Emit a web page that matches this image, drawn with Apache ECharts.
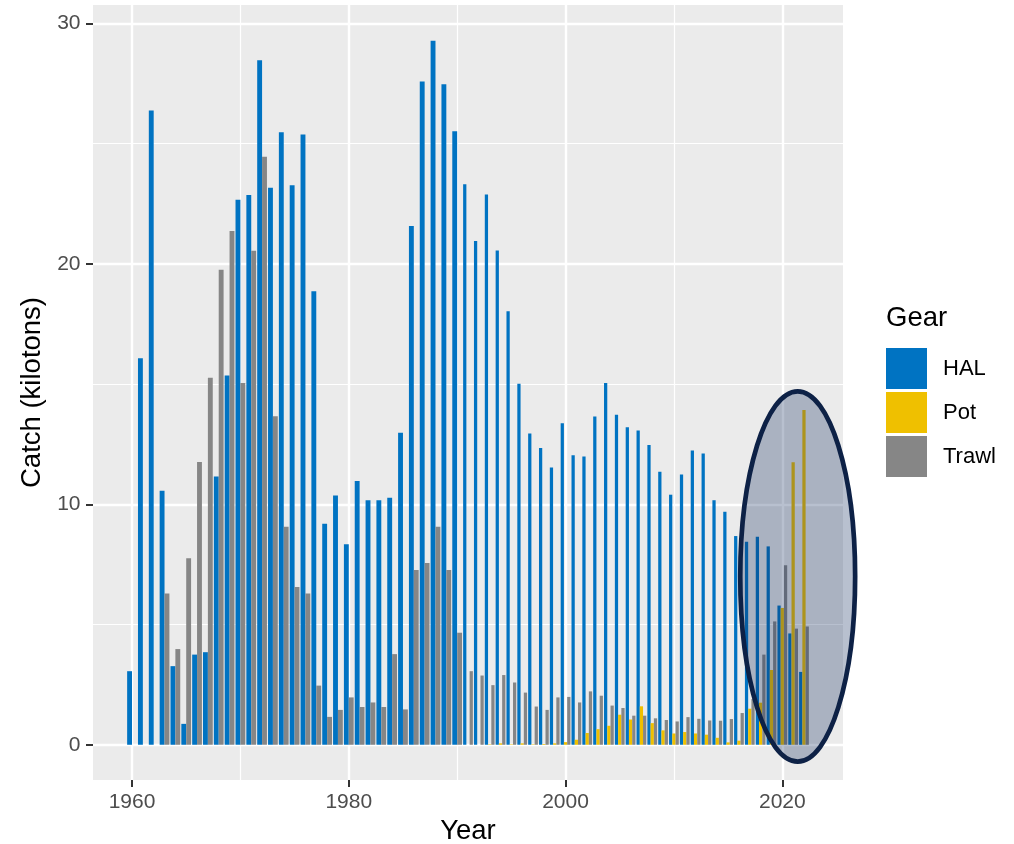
<!DOCTYPE html>
<html><head><meta charset="utf-8">
<script src="https://cdn.jsdelivr.net/npm/echarts@6/dist/echarts.min.js"></script>
<style>html,body{margin:0;padding:0;background:#fff}#c{width:1014px;height:844px}</style>
</head><body><div id="c"></div>
<script>
// ---- data ----
const years = [1960,1961,1962,1963,1964,1965,1966,1967,1968,1969,
  1970,1971,1972,1973,1974,1975,1976,1977,1978,1979,
  1980,1981,1982,1983,1984,1985,1986,1987,1988,1989,
  1990,1991,1992,1993,1994,1995,1996,1997,1998,1999,
  2000,2001,2002,2003,2004,2005,2006,2007,2008,2009,
  2010,2011,2012,2013,2014,2015,2016,2017,2018,2019,
  2020,2021,2022];
const hal = [3.06,16.07,26.38,10.56,3.27,0.87,3.75,3.85,11.16,15.36,
  22.67,22.86,28.47,23.17,25.47,23.27,25.38,18.86,9.19,10.37,
  8.34,10.97,10.17,10.17,10.27,12.98,21.57,27.58,29.28,27.47,
  25.51,23.31,20.95,22.88,20.56,18.03,15.01,12.94,12.34,11.53,
  13.37,12.04,11.99,13.65,15.04,13.72,13.21,13.07,12.47,11.35,
  10.40,11.24,12.24,12.11,10.17,9.69,8.68,8.44,8.65,8.25,
  5.79,4.63,3.03];
const pot = [null,null,null,null,null,null,null,null,null,null,
  null,null,null,null,null,null,null,null,null,null,
  null,null,null,null,null,null,null,null,null,null,
  null,0,0,0.02,0.06,0.02,0.06,0.02,0.03,0.06,
  0.11,0.21,0.49,0.65,0.79,1.25,1.05,1.60,0.90,0.60,
  0.47,0.53,0.47,0.42,0.29,0.10,0.17,1.50,1.75,3.11,
  5.69,11.75,13.92];
const trawl = [0,0,0,6.29,3.98,7.76,11.76,15.26,19.75,21.37,
  15.05,20.54,24.45,13.66,9.07,6.56,6.29,2.46,1.16,1.45,
  1.97,1.57,1.76,1.57,3.77,1.47,7.27,7.56,9.07,7.27,
  4.66,3.06,2.88,2.48,2.90,2.59,2.17,1.59,1.45,1.97,
  1.99,1.76,2.22,2.04,1.63,1.53,1.21,1.21,1.10,1.03,
  0.97,1.15,1.08,1.01,1.00,1.07,1.32,1.90,3.75,5.13,
  7.47,4.83,4.92];
const gears = ['HAL','Pot','Trawl'];
const xTickLabels = [1960,1980,2000,2020];
const yTickLabels = [0,10,20,30];
const highlight = {year: 2021.42, catch: 7.0, halfYears: 5.3, halfCatch: 7.7};

// ---- styling ----
const FONT = "'Liberation Sans', Arial, sans-serif";
const colors = {HAL:'#0073C2', Pot:'#EFC000', Trawl:'#868686'};

const twoIdx = years.map((y,i)=>i).filter(i=>pot[i] === null);
const threeIdx = years.map((y,i)=>i).filter(i=>pot[i] !== null);
const pts = (idx, arr) => idx.map(i => [years[i], arr[i]]);

function barSeries(name, axis, idx, arr, width){
  return {name, type:'bar', xAxisIndex:axis, yAxisIndex:0, data: pts(idx, arr),
    barWidth: width, barGap:'0%', itemStyle:{color: colors[name]}, z:2, silent:true};
}

const xCommon = {type:'value', min:1956.4, max:2025.6, splitNumber:3};

const option = {
  animation:false,
  textStyle:{fontFamily:FONT},
  grid:{left:93, right:171, top:5, bottom:64, show:true, backgroundColor:'#EBEBEB', borderWidth:0,
    containLabel:false, outerBoundsMode:'none'},
  title:{text:'Gear', left:886, top:304, padding:0,
    textStyle:{fontFamily:FONT, fontSize:27.5, fontWeight:'normal', color:'#000'}},
  legend:{orient:'vertical', left:886, top:348, padding:0, itemWidth:41, itemHeight:41, itemGap:3, icon:'rect',
    data:gears, selectedMode:false,
    textStyle:{fontFamily:FONT, fontSize:22, color:'#000', padding:[0,0,0,11]}},
  xAxis:[
    Object.assign({}, xCommon, {
      name:'Year', nameLocation:'middle', nameGap:37,
      nameTextStyle:{fontFamily:FONT, fontSize:27.5, color:'#000'},
      axisLine:{show:false, onZero:false},
      axisTick:{show:true, length:7, customValues:xTickLabels, lineStyle:{color:'#333', width:2}},
      axisLabel:{customValues:xTickLabels, color:'#4D4D4D', fontSize:21, margin:12, fontFamily:FONT,
        formatter:v=>String(v)},
      splitLine:{show:true, lineStyle:{color:'#FFFFFF', width:2.4}},
      minorTick:{show:false, splitNumber:2},
      minorSplitLine:{show:true, lineStyle:{color:'#FFFFFF', width:1.2}}
    }),
    Object.assign({}, xCommon, {show:false, axisLine:{onZero:false}, splitLine:{show:false}})
  ],
  yAxis:{type:'value', min:-1.465, max:30.765, splitNumber:3,
    name:'Catch (kilotons)', nameLocation:'middle', nameGap:45,
    nameTextStyle:{fontFamily:FONT, fontSize:27.5, color:'#000'},
    axisLine:{show:false, onZero:false},
    axisTick:{show:true, length:7, customValues:yTickLabels, lineStyle:{color:'#333', width:2}},
    axisLabel:{customValues:yTickLabels, color:'#4D4D4D', fontSize:21, margin:12.5, fontFamily:FONT,
      formatter:v=>String(v)},
    splitLine:{show:true, lineStyle:{color:'#FFFFFF', width:2.4}},
    minorTick:{show:false, splitNumber:2},
    minorSplitLine:{show:true, lineStyle:{color:'#FFFFFF', width:1.2}}
  },
  series:[
    barSeries('HAL', 0, twoIdx, hal, '45%'),
    barSeries('Trawl', 0, twoIdx, trawl, '45%'),
    barSeries('HAL', 1, threeIdx, hal, '30%'),
    barSeries('Pot', 1, threeIdx, pot, '30%'),
    barSeries('Trawl', 1, threeIdx, trawl, '30%'),
    {type:'custom', xAxisIndex:0, yAxisIndex:0, silent:true, clip:false, z:5,
      data:[[highlight.year, highlight.catch]],
      renderItem:function(params, api){
        const x = api.value(0), y = api.value(1);
        const c = api.coord([x, y]);
        const ex = api.coord([x + highlight.halfYears, y]);
        const ey = api.coord([x, y + highlight.halfCatch]);
        return {type:'ellipse',
          shape:{cx:c[0], cy:c[1], rx:Math.abs(ex[0]-c[0]), ry:Math.abs(c[1]-ey[1])},
          style:{fill:'rgba(20,45,95,0.3)', stroke:'#0D2146', lineWidth:4.7}};
      }}
  ]
};
echarts.init(document.getElementById('c'), null, {renderer:'canvas'}).setOption(option);
</script></body></html>
